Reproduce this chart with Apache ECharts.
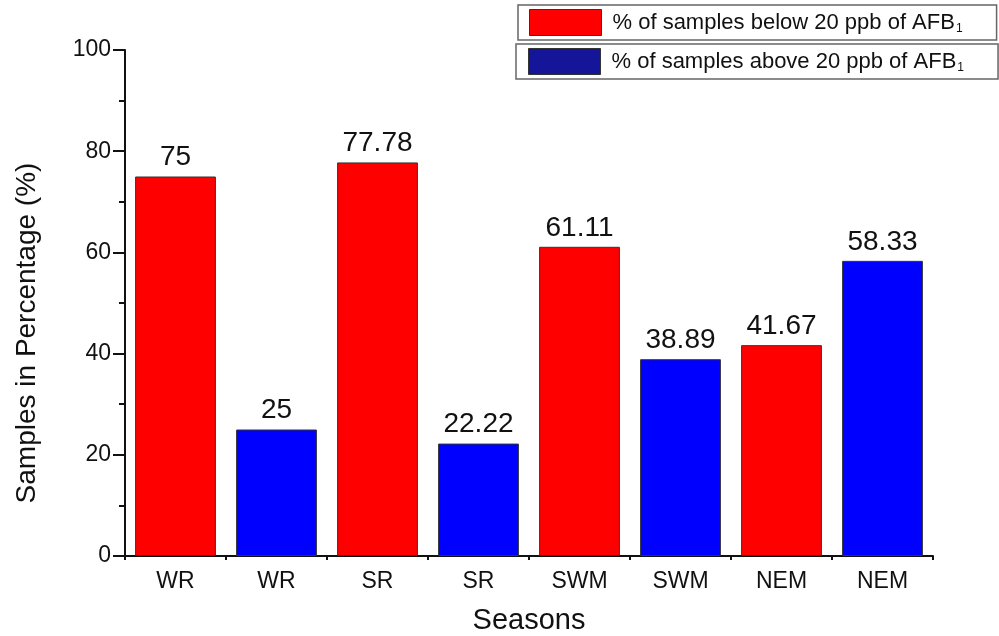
<!DOCTYPE html>
<html>
<head>
<meta charset="utf-8">
<script src="https://cdn.jsdelivr.net/npm/echarts@6/dist/echarts.min.js"></script>
<style>html,body{margin:0;padding:0;background:#fff;}#c{width:999px;height:636px;}</style>
</head>
<body>
<div id="c"></div>
<script>
const categories = ['WR', 'WR', 'SR', 'SR', 'SWM', 'SWM', 'NEM', 'NEM'];
const belowValues = [75, '-', 77.78, '-', 61.11, '-', 41.67, '-'];
const aboveValues = ['-', 25, '-', 22.22, '-', 38.89, '-', 58.33];
const belowName = 'below';
const aboveName = 'above';
const yTicks = [0, 20, 40, 60, 80, 100];

const font = 'Liberation Sans, Arial, sans-serif';
const chart = echarts.init(document.getElementById('c'), null, {renderer: 'canvas'});

const legendCommon = {
  orient: 'horizontal',
  icon: 'rect',
  itemWidth: 72,
  itemHeight: 26,
  borderColor: '#666',
  borderWidth: 1.5,
  backgroundColor: '#fff',
  selectedMode: false,
  textStyle: {
    fontFamily: font, fontSize: 22, color: '#111', padding: [0, 0, 0, 6],
    rich: {
      m: {fontFamily: font, fontSize: 22, color: '#111'},
      s: {fontFamily: font, fontSize: 12, color: '#111', verticalAlign: 'bottom', padding: [12, 0, 0, 1]}
    }
  }
};

chart.setOption({
  animation: false,
  backgroundColor: '#fff',
  grid: {left: 125, right: 66, top: 50, bottom: 80, containLabel: false, outerBoundsMode: 'none'},
  legend: [
    Object.assign({}, legendCommon, {
      left: 518, top: 5, padding: [4, 34, 4, 11],
      data: [{name: belowName, itemStyle: {color: '#ff0000', borderColor: '#333', borderWidth: 1}}],
      formatter: () => '{m|% of samples below 20 ppb of AFB}{s|1}'
    }),
    Object.assign({}, legendCommon, {
      left: 516, top: 44, padding: [4, 34, 4, 12],
      data: [{name: aboveName, itemStyle: {color: '#15159a', borderColor: '#333', borderWidth: 1}}],
      formatter: () => '{m|% of samples above 20 ppb of AFB}{s|1}'
    })
  ],
  xAxis: [
    {
      type: 'category',
      data: categories,
      name: 'Seasons',
      nameLocation: 'middle',
      nameGap: 50,
      nameTextStyle: {fontFamily: font, fontSize: 29, color: '#111'},
      axisLine: {lineStyle: {color: '#111', width: 2}},
      axisTick: {alignWithLabel: true, length: 8, lineStyle: {color: '#111', width: 2}},
      axisLabel: {fontFamily: font, fontSize: 23, color: '#111', margin: 14},
      splitLine: {show: false}
    },
    {
      type: 'category',
      data: categories,
      position: 'bottom',
      axisLine: {show: false},
      axisTick: {show: true, length: 4, lineStyle: {color: '#111', width: 2}},
      axisLabel: {show: false},
      splitLine: {show: false}
    }
  ],
  yAxis: {
    type: 'value',
    min: 0, max: 100, interval: 20,
    name: 'Samples in Percentage (%)',
    nameLocation: 'middle',
    nameGap: 84,
    nameTextStyle: {fontFamily: font, fontSize: 28, color: '#111', padding: [0, 60, 0, 0]},
    axisLine: {show: true, lineStyle: {color: '#111', width: 2}},
    axisTick: {show: true, length: 12, lineStyle: {color: '#111', width: 2}},
    minorTick: {show: true, splitNumber: 2, length: 6, lineStyle: {color: '#111', width: 2}},
    axisLabel: {fontFamily: font, fontSize: 23, color: '#111', margin: 14,
      formatter: v => yTicks.includes(v) ? String(v) : ''},
    splitLine: {show: false}
  },
  series: [
    {
      name: belowName, type: 'bar', data: belowValues,
      barWidth: '80%', barGap: '-100%',
      itemStyle: {color: '#ff0000', borderColor: '#333', borderWidth: 1},
      label: {show: true, position: 'top', distance: 5, fontFamily: font, fontSize: 28, color: '#111'}
    },
    {
      name: aboveName, type: 'bar', data: aboveValues,
      barWidth: '80%', barGap: '-100%',
      itemStyle: {color: '#0000ff', borderColor: '#333', borderWidth: 1},
      label: {show: true, position: 'top', distance: 5, fontFamily: font, fontSize: 28, color: '#111'}
    }
  ]
});
</script>
</body>
</html>
